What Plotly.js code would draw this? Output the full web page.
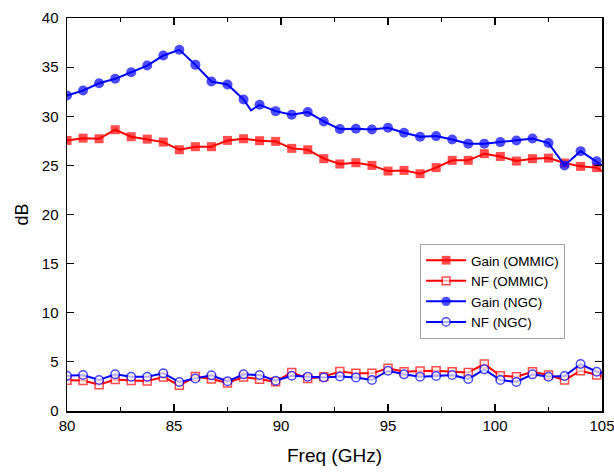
<!DOCTYPE html>
<html>
<head>
<meta charset="utf-8">
<script src="https://cdn.plot.ly/plotly-3.0.1.min.js"></script>
<style>html,body{margin:0;padding:0;background:#fff;}#chart{width:614px;height:472px;}</style>
</head>
<body>
<div id="chart"></div>
<script>
const freq = [80, 80.75, 81.5, 82.25, 83, 83.75, 84.5, 85.25, 86, 86.75, 87.5, 88.25, 89, 89.75, 90.5, 91.25, 92, 92.75, 93.5, 94.25, 95, 95.75, 96.5, 97.25, 98, 98.75, 99.5, 100.25, 101, 101.75, 102.5, 103.25, 104, 104.75, 105];

const gainOMMIC = [27.54, 27.77, 27.71, 28.63, 27.92, 27.67, 27.37, 26.59, 26.90, 26.90, 27.54, 27.71, 27.51, 27.44, 26.73, 26.59, 25.68, 25.14, 25.27, 25.0, 24.42, 24.49, 24.15, 24.77, 25.51, 25.51, 26.19, 25.91, 25.44, 25.68, 25.74, 25.24, 24.90, 24.77, 24.42];

const nfOMMIC = [3.12, 3.10, 2.67, 3.20, 3.10, 3.05, 3.45, 2.62, 3.50, 3.25, 2.85, 3.47, 3.22, 2.98, 3.93, 3.32, 3.49, 4.03, 3.83, 3.83, 4.34, 4.0, 4.07, 4.10, 4.0, 3.93, 4.78, 3.59, 3.49, 4.0, 3.66, 3.15, 4.10, 3.66, 3.56];

const freqNGC = [80, 80.75, 81.5, 82.25, 83, 83.75, 84.5, 85.25, 86, 86.75, 87.5, 88.25, 88.6, 89, 89.75, 90.5, 91.25, 92, 92.75, 93.5, 94.25, 95, 95.75, 96.5, 97.25, 98, 98.75, 99.5, 100.25, 101, 101.75, 102.5, 103.25, 104, 104.75, 105];

const gainNGC = [32.11, 32.62, 33.36, 33.81, 34.48, 35.16, 36.18, 36.76, 35.23, 33.54, 33.23, 31.71, 30.6, 31.17, 30.52, 30.15, 30.42, 29.47, 28.69, 28.73, 28.66, 28.83, 28.32, 27.92, 27.98, 27.64, 27.21, 27.21, 27.37, 27.54, 27.74, 27.27, 25.0, 26.45, 25.41, 25.0];

const nfNGC = [3.59, 3.66, 3.15, 3.73, 3.49, 3.49, 3.83, 2.95, 3.32, 3.63, 3.02, 3.73, 3.66, 3.08, 3.59, 3.49, 3.42, 3.52, 3.42, 3.15, 4.10, 3.73, 3.49, 3.56, 3.66, 3.25, 4.24, 3.15, 2.95, 3.73, 3.49, 3.56, 4.78, 4.0, 3.83];

const seriesNames = ['Gain (OMMIC)', 'NF (OMMIC)', 'Gain (NGC)', 'NF (NGC)'];
const xTickVals = [80, 85, 90, 95, 100, 105];
const yTickVals = [0, 5, 10, 15, 20, 25, 30, 35, 40];

const RED = '#FF0000', BLUE = '#0000FF';

function sizes(xs, size) {
  // no marker at the final edge point (and the unmarked NGC intermediate point)
  return xs.map(x => (x === 105 || x === 88.6) ? 0 : size);
}

const traces = [
  {x: freq, y: gainOMMIC, name: seriesNames[0], type: 'scatter', mode: 'lines+markers',
   line: {color: RED, width: 2},
   marker: {symbol: 'square', color: RED, size: sizes(freq, 9), line: {width: 0}}},
  {x: freq, y: nfOMMIC, name: seriesNames[1], type: 'scatter', mode: 'lines+markers',
   line: {color: RED, width: 2},
   marker: {symbol: 'square', color: '#FFFFFF', size: sizes(freq, 8), line: {color: RED, width: 1.5}}},
  {x: freqNGC, y: gainNGC, name: seriesNames[2], type: 'scatter', mode: 'lines+markers',
   line: {color: BLUE, width: 2},
   marker: {symbol: 'circle', color: BLUE, size: sizes(freqNGC, 10), line: {width: 0}}},
  {x: freq, y: nfNGC, name: seriesNames[3], type: 'scatter', mode: 'lines+markers',
   line: {color: BLUE, width: 2},
   marker: {symbol: 'circle', color: '#FFFFFF', size: sizes(freq, 8.5), line: {color: BLUE, width: 1.5}}}
];

const layout = {
  width: 614, height: 472,
  margin: {l: 67, r: 12, t: 18, b: 61},
  paper_bgcolor: '#FFFFFF', plot_bgcolor: '#FFFFFF',
  font: {family: 'Liberation Sans, Arial, sans-serif', color: '#000000', size: 15},
  showlegend: true,
  legend: {
    x: 0.66, y: 0.425, xanchor: 'left', yanchor: 'top',
    bgcolor: '#FFFFFF', bordercolor: '#A0A0A0', borderwidth: 1,
    font: {size: 13.5, family: 'Liberation Sans, Arial, sans-serif'},
    tracegroupgap: 0, itemwidth: 40
  },
  xaxis: {
    range: [80, 105], tickvals: xTickVals, ticktext: xTickVals.map(String),
    showgrid: false, zeroline: false,
    showline: true, linecolor: '#000000', linewidth: 1.5, mirror: 'ticks',
    ticks: 'inside', ticklen: 7, tickwidth: 1.2, tickcolor: '#000000',
    minor: {dtick: 2.5, tick0: 80, ticks: 'inside', ticklen: 4, tickwidth: 1, tickcolor: '#000000', showgrid: false},
    tickfont: {size: 15},
    ticklabeloverflow: 'allow',
    title: {text: 'Freq (GHz)', font: {size: 19}, standoff: 16}
  },
  yaxis: {
    range: [0, 40], tickvals: yTickVals, ticktext: yTickVals.map(String),
    showgrid: false, zeroline: false,
    showline: true, linecolor: '#000000', linewidth: 1.5, mirror: 'ticks',
    ticks: 'inside', ticklen: 7, tickwidth: 1.2, tickcolor: '#000000',
    ticklabelstandoff: 4,
    ticklabeloverflow: 'allow',
    tickfont: {size: 15},
    title: {text: 'dB', font: {size: 18}, standoff: 8}
  }
};

Plotly.newPlot('chart', traces, layout, {displayModeBar: false, staticPlot: true});
</script>
</body>
</html>
